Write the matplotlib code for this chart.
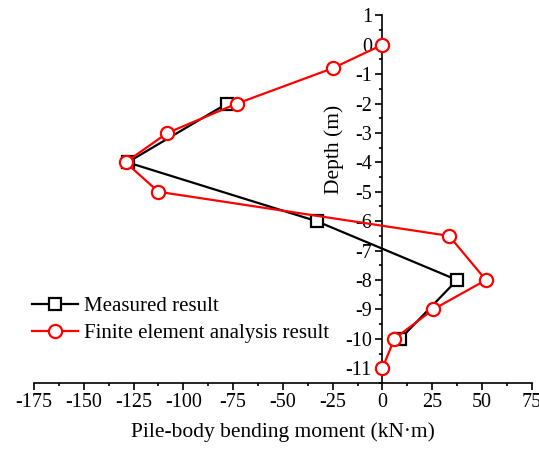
import matplotlib
matplotlib.use("Agg")
import matplotlib.pyplot as plt
from matplotlib.ticker import MultipleLocator

plt.rcParams['font.family'] = ['Liberation Serif', 'DejaVu Serif']
plt.rcParams['axes.unicode_minus'] = False

meas_depth = [-2, -4, -6, -8, -10]
meas_moment = [-78, -128, -33, 37.5, 9]

fea_depth = [0, -0.8, -2, -3, -4, -5, -6.5, -8, -9, -10, -11]
fea_moment = [0, -25, -73, -108, -129, -112.5, 33.5, 52, 25.5, 6, 0]

fig = plt.figure(figsize=(5.39, 4.5), dpi=100)
ax = fig.add_axes([0.063, 0.149, 0.9235, 0.817])

ax.plot(meas_moment, meas_depth, color='black', lw=1.6, marker='s', ms=8.5,
        mfc='white', mec='black', mew=1.6, label='Measured result', clip_on=False, zorder=3)
ax.plot(fea_moment, fea_depth, color='red', lw=1.6, marker='o', ms=9.5,
        mfc='white', mec='red', mew=1.6, label='Finite element analysis result', clip_on=False, zorder=4)

ax.set_xlim(-175, 75)
ax.set_ylim(-11.5, 1)
ax.spines['left'].set_position(('data', 0))
ax.spines['top'].set_visible(False)
ax.spines['right'].set_visible(False)
for s in ['left', 'bottom']:
    ax.spines[s].set_linewidth(1.2)

ax.xaxis.set_major_locator(MultipleLocator(25))
ax.xaxis.set_minor_locator(MultipleLocator(12.5))
ax.yaxis.set_minor_locator(MultipleLocator(0.5))
ax.set_yticks(list(range(-11, 2)))
ax.tick_params(which='major', direction='out', length=5, width=1.2, labelsize=14.5, pad=2.5)
ax.tick_params(which='minor', direction='out', length=2.5, width=1.2)

ax.set_xlabel('Pile-body bending moment (kN·m)', fontsize=15.5, labelpad=7)
ax.set_ylabel('Depth (m)', fontsize=15.5)
ax.yaxis.set_label_coords(0.623, 0.634)

ax.legend(loc='lower left', bbox_to_anchor=(-0.02, 0.085), frameon=False, fontsize=15,
          handlelength=2.2, handletextpad=0.3, labelspacing=0.35, borderaxespad=0)

fig.savefig('out.png', dpi=100)
